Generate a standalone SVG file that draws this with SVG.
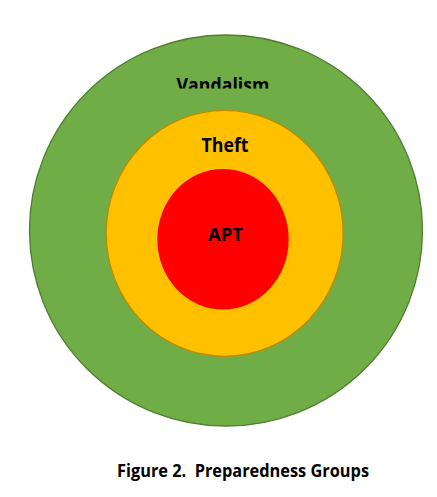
<svg xmlns="http://www.w3.org/2000/svg" width="437" height="497" viewBox="0 0 437 497">
  <style>
    .lbl { font-family: "Open Sans", "Liberation Sans", Arial, sans-serif; font-weight: bold; fill: #000; text-anchor: middle; }
  </style>
  <defs>
    <clipPath id="vandalClip">
      <rect x="0" y="0" width="437" height="88.5"/>
    </clipPath>
  </defs>
  <rect width="437" height="497" fill="#ffffff"/>
  <g id="vandalism">
    <ellipse cx="226" cy="230.5" rx="196.5" ry="195.5" fill="#70ad47" stroke="#507e32" stroke-width="1.3"/>
    <text class="lbl" x="223" y="91.5" font-size="19" textLength="93" lengthAdjust="spacingAndGlyphs" clip-path="url(#vandalClip)">Vandalism</text>
  </g>
  <g id="theft">
    <ellipse cx="224.7" cy="233.3" rx="118.5" ry="123" fill="#ffc000" stroke="#bc8c00" stroke-width="1.3"/>
    <text class="lbl" x="225" y="151.7" font-size="19.5" textLength="47" lengthAdjust="spacingAndGlyphs">Theft</text>
  </g>
  <g id="apt">
    <ellipse cx="223" cy="239.3" rx="65.7" ry="70.3" fill="#ff0000"/>
    <text class="lbl" x="225.5" y="240.7" font-size="18.5" textLength="35" lengthAdjust="spacingAndGlyphs">APT</text>
  </g>
  <text class="lbl" x="243" y="476.5" font-size="18.5" textLength="252" lengthAdjust="spacingAndGlyphs" xml:space="preserve">Figure 2.  Preparedness Groups</text>
</svg>
